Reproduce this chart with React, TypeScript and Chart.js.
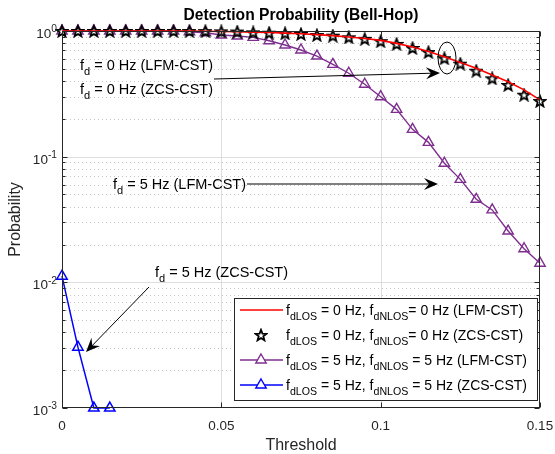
import React, { useEffect, useRef } from 'react';
import { Chart, registerables } from 'chart.js';

Chart.register(...registerables);

// ---------- data ----------
const thresholds = [
  0, 0.005, 0.01, 0.015, 0.02, 0.025, 0.03, 0.035, 0.04, 0.045,
  0.05, 0.055, 0.06, 0.065, 0.07, 0.075, 0.08, 0.085, 0.09, 0.095,
  0.1, 0.105, 0.11, 0.115, 0.12, 0.125, 0.13, 0.135, 0.14, 0.145, 0.15,
];
const lfm0Hz = [
  1, 1, 1, 1, 1, 1, 0.999, 0.999, 0.998, 0.996,
  0.992, 0.987, 0.98, 0.972, 0.962, 0.95, 0.935, 0.918, 0.897, 0.872,
  0.842, 0.797, 0.745, 0.688, 0.625, 0.562, 0.505, 0.447, 0.395, 0.34, 0.283,
];
const zcs0Hz = [
  1, 1, 1, 1, 1, 1, 1, 1, 0.999, 0.998,
  0.994, 0.99, 0.976, 0.969, 0.959, 0.947, 0.929, 0.918, 0.891, 0.866,
  0.83, 0.789, 0.733, 0.68, 0.607, 0.55, 0.483, 0.42, 0.372, 0.311, 0.277,
];
const lfm5Hz = [
  1, 1, 1, 1, 1, 1, 1, 0.999, 0.987, 0.969,
  0.93, 0.912, 0.89, 0.837, 0.774, 0.706, 0.632, 0.543, 0.461, 0.377,
  0.3, 0.238, 0.165, 0.13, 0.0886, 0.066, 0.0458, 0.0377, 0.0256, 0.0185, 0.0142,
];
const zcs5Hz = [0.0112, 0.00305, 0.001, 0.001];

const xTickValues = [0, 0.05, 0.1, 0.15];
const xTickLabels = ['0', '0.05', '0.1', '0.15'];
const yDecadeExponents = [0, -1, -2, -3];

const titleText = 'Detection Probability (Bell-Hop)';
const xAxisTitle = 'Threshold';
const yAxisTitle = 'Probability';

const legendLabels = [
  [{ t: 'f' }, { t: 'dLOS', sub: true }, { t: ' = 0 Hz, f' }, { t: 'dNLOS', sub: true }, { t: '= 0 Hz (LFM-CST)' }],
  [{ t: 'f' }, { t: 'dLOS', sub: true }, { t: ' = 0 Hz, f' }, { t: 'dNLOS', sub: true }, { t: '= 0 Hz (ZCS-CST)' }],
  [{ t: 'f' }, { t: 'dLOS', sub: true }, { t: ' = 5 Hz, f' }, { t: 'dNLOS', sub: true }, { t: ' = 5 Hz (LFM-CST)' }],
  [{ t: 'f' }, { t: 'dLOS', sub: true }, { t: ' = 5 Hz, f' }, { t: 'dNLOS', sub: true }, { t: ' = 5 Hz (ZCS-CST)' }],
];

const annotationTexts = {
  lfm0: [{ t: 'f' }, { t: 'd', sub: true }, { t: ' = 0 Hz (LFM-CST)' }],
  zcs0: [{ t: 'f' }, { t: 'd', sub: true }, { t: ' = 0 Hz (ZCS-CST)' }],
  lfm5: [{ t: 'f' }, { t: 'd', sub: true }, { t: ' = 5 Hz (LFM-CST)' }],
  zcs5: [{ t: 'f' }, { t: 'd', sub: true }, { t: ' = 5 Hz (ZCS-CST)' }],
};

// ---------- styles ----------
const RED = '#ff0000';
const PURPLE = '#7e2f8e';
const BLUE = '#0000ff';
const AXIS = '#262626';
const FONT = '"Liberation Sans", Arial, Helvetica, sans-serif';

type Part = { t: string; sub?: boolean; sup?: boolean };

function drawRich(ctx: CanvasRenderingContext2D, parts: Part[], x: number, baseline: number, size: number, align: 'left' | 'right' | 'center' = 'left', bold = false) {
  const small = size * 0.76;
  const fontFor = (p: Part) => `${bold ? 'bold ' : ''}${p.sub || p.sup ? small : size}px ${FONT}`;
  let w = 0;
  for (const p of parts) {
    ctx.font = fontFor(p);
    w += ctx.measureText(p.t).width;
  }
  let cx = align === 'right' ? x - w : align === 'center' ? x - w / 2 : x;
  ctx.textBaseline = 'alphabetic';
  ctx.textAlign = 'left';
  for (const p of parts) {
    ctx.font = fontFor(p);
    const dy = p.sub ? size * 0.36 : p.sup ? -size * 0.42 : 0;
    ctx.fillText(p.t, cx, baseline + dy);
    cx += ctx.measureText(p.t).width;
  }
}

function drawArrow(ctx: CanvasRenderingContext2D, x1: number, y1: number, x2: number, y2: number) {
  const ang = Math.atan2(y2 - y1, x2 - x1);
  ctx.save();
  ctx.strokeStyle = '#000';
  ctx.fillStyle = '#000';
  ctx.lineWidth = 1;
  ctx.beginPath();
  ctx.moveTo(x1, y1);
  ctx.lineTo(x2 - 6 * Math.cos(ang), y2 - 6 * Math.sin(ang));
  ctx.stroke();
  ctx.translate(x2, y2);
  ctx.rotate(ang);
  ctx.beginPath();
  ctx.moveTo(0, 0);
  ctx.lineTo(-14, -6);
  ctx.lineTo(-9, 0);
  ctx.lineTo(-14, 6);
  ctx.closePath();
  ctx.fill();
  ctx.restore();
}

function makeStar(size: number): HTMLCanvasElement {
  const c = document.createElement('canvas');
  c.width = size;
  c.height = size;
  const g = c.getContext('2d')!;
  const cx = size / 2;
  const cy = size / 2 + 0.6;
  const R = size / 2 - 1.2;
  const r = R * 0.42;
  g.beginPath();
  for (let i = 0; i < 10; i++) {
    const a = -Math.PI / 2 + (i * Math.PI) / 5;
    const rad = i % 2 ? r : R;
    const px = cx + rad * Math.cos(a);
    const py = cy + rad * Math.sin(a);
    if (i === 0) g.moveTo(px, py);
    else g.lineTo(px, py);
  }
  g.closePath();
  g.fillStyle = '#ffffff';
  g.fill();
  g.strokeStyle = '#000';
  g.lineWidth = 1.8;
  g.lineJoin = 'miter';
  g.stroke();
  return c;
}

const decorPlugin = {
  id: 'decor',
  beforeDatasetsDraw(chart: any) {
    const { ctx, chartArea: a, scales } = chart;
    const xs = scales.x;
    const ys = scales.y;
    ctx.save();
    // minor dotted grid
    ctx.strokeStyle = '#c4c4c4';
    ctx.lineWidth = 1;
    ctx.setLineDash([1, 3]);
    for (const e of yDecadeExponents) {
      for (let k = 2; k <= 9; k++) {
        const v = k * Math.pow(10, e);
        if (v >= 1 || v <= 0.001) continue;
        const py = Math.round(ys.getPixelForValue(v)) + 0.5;
        ctx.beginPath();
        ctx.moveTo(a.left, py);
        ctx.lineTo(a.right, py);
        ctx.stroke();
      }
    }
    ctx.setLineDash([]);
    // major grid
    ctx.strokeStyle = '#dedede';
    for (const e of yDecadeExponents) {
      const v = Math.pow(10, e);
      if (v >= 1 || v <= 0.001) continue;
      const py = Math.round(ys.getPixelForValue(v)) + 0.5;
      ctx.beginPath();
      ctx.moveTo(a.left, py);
      ctx.lineTo(a.right, py);
      ctx.stroke();
    }
    for (const v of xTickValues) {
      if (v <= 0 || v >= 0.15) continue;
      const px = Math.round(xs.getPixelForValue(v)) + 0.5;
      ctx.beginPath();
      ctx.moveTo(px, a.top);
      ctx.lineTo(px, a.bottom);
      ctx.stroke();
    }
    ctx.restore();
  },
  afterDatasetsDraw(chart: any) {
    const { ctx, chartArea: a, scales } = chart;
    const xs = scales.x;
    const ys = scales.y;
    ctx.save();
    // box
    ctx.strokeStyle = AXIS;
    ctx.lineWidth = 1;
    const L = Math.round(a.left) + 0.5;
    const R = Math.round(a.right) - 0.5;
    const T = Math.round(a.top) + 0.5;
    const B = Math.round(a.bottom) - 0.5;
    ctx.strokeRect(L, T, R - L, B - T);
    // ticks
    ctx.beginPath();
    for (const v of xTickValues) {
      const px = Math.round(xs.getPixelForValue(v)) + 0.5;
      ctx.moveTo(px, B);
      ctx.lineTo(px, B - 5);
      ctx.moveTo(px, T);
      ctx.lineTo(px, T + 5);
    }
    for (const e of yDecadeExponents) {
      const py = Math.round(ys.getPixelForValue(Math.pow(10, e))) + 0.5;
      ctx.moveTo(L, py);
      ctx.lineTo(L + 5, py);
      ctx.moveTo(R, py);
      ctx.lineTo(R - 5, py);
      for (let k = 2; k <= 9; k++) {
        const v = k * Math.pow(10, e);
        if (v >= 1) continue;
        const pm = Math.round(ys.getPixelForValue(v)) + 0.5;
        ctx.moveTo(L, pm);
        ctx.lineTo(L + 3, pm);
        ctx.moveTo(R, pm);
        ctx.lineTo(R - 3, pm);
      }
    }
    ctx.stroke();

    // tick labels
    ctx.fillStyle = AXIS;
    xTickValues.forEach((v, i) => {
      const px = xs.getPixelForValue(v);
      drawRich(ctx, [{ t: xTickLabels[i] }], px, 430, 13.5, 'center');
    });
    for (const e of yDecadeExponents) {
      const py = ys.getPixelForValue(Math.pow(10, e));
      drawRich(ctx, [{ t: '10' }, { t: String(e), sup: true }], 57, py + 7, 13.5, 'right');
    }

    // axis titles
    drawRich(ctx, [{ t: xAxisTitle }], (a.left + a.right) / 2, 450, 16, 'center');
    ctx.save();
    ctx.translate(20, (a.top + a.bottom) / 2);
    ctx.rotate(-Math.PI / 2);
    drawRich(ctx, [{ t: yAxisTitle }], 0, 0, 16, 'center');
    ctx.restore();

    // title
    ctx.fillStyle = '#000';
    drawRich(ctx, [{ t: titleText }], (a.left + a.right) / 2, 20, 15.6, 'center', true);

    // annotations
    ctx.fillStyle = '#000';
    drawRich(ctx, annotationTexts.lfm0, 80, 69.5, 14.5);
    drawRich(ctx, annotationTexts.zcs0, 80, 94, 14.5);
    drawRich(ctx, annotationTexts.lfm5, 113, 189, 14.5);
    drawRich(ctx, annotationTexts.zcs5, 155, 277, 14.5);
    drawArrow(ctx, 214, 79, 440, 73);
    drawArrow(ctx, 247, 184, 438, 184);
    drawArrow(ctx, 149, 287, 86, 352);
    ctx.strokeStyle = '#000';
    ctx.lineWidth = 1;
    ctx.beginPath();
    ctx.ellipse(447, 58, 9, 16, 0, 0, Math.PI * 2);
    ctx.stroke();

    // legend
    const lx = 234.5, ly = 298.5, lw = 303, lh = 102;
    ctx.fillStyle = '#ffffff';
    ctx.fillRect(lx, ly, lw, lh);
    ctx.strokeStyle = AXIS;
    ctx.lineWidth = 1;
    ctx.strokeRect(lx, ly, lw, lh);
    const rowY = [310, 335, 360, 385];
    const sx1 = 240, sx2 = 283, sm = 261;
    // row 1: red line
    ctx.strokeStyle = RED;
    ctx.lineWidth = 1.6;
    ctx.beginPath(); ctx.moveTo(sx1, rowY[0]); ctx.lineTo(sx2, rowY[0]); ctx.stroke();
    // row 2: star
    const star = chart.$starImg as HTMLCanvasElement;
    if (star) ctx.drawImage(star, sm - star.width / 2, rowY[1] - star.height / 2);
    // rows 3-4: triangle lines
    const tri = (cy: number, color: string, lwid: number) => {
      ctx.strokeStyle = color;
      ctx.lineWidth = lwid;
      ctx.beginPath(); ctx.moveTo(sx1, cy); ctx.lineTo(sx2, cy); ctx.stroke();
      const r = 6;
      ctx.fillStyle = '#fff';
      ctx.lineWidth = 1.4;
      ctx.beginPath();
      ctx.moveTo(sm, cy - r);
      ctx.lineTo(sm + r * 0.866, cy + r * 0.5);
      ctx.lineTo(sm - r * 0.866, cy + r * 0.5);
      ctx.closePath();
      ctx.fill();
      ctx.stroke();
    };
    tri(rowY[2], PURPLE, 1.3);
    tri(rowY[3], BLUE, 1.5);
    ctx.fillStyle = '#000';
    legendLabels.forEach((parts, i) => {
      drawRich(ctx, parts as Part[], 286, rowY[i] + 5, 14);
    });
    ctx.restore();
  },
};

export default function App() {
  const ref = useRef<HTMLCanvasElement | null>(null);
  useEffect(() => {
    const canvas = ref.current;
    if (!canvas) return;
    const starImg = makeStar(14);
    const pts = (ys: number[]) => ys.map((v, i) => ({ x: thresholds[i], y: v }));
    const chart = new Chart(canvas, {
      type: 'line',
      data: {
        datasets: [
          {
            label: 'fdLOS = 0 Hz, fdNLOS = 0 Hz (LFM-CST)',
            data: pts(lfm0Hz),
            borderColor: RED,
            borderWidth: 1.6,
            pointRadius: 0,
            tension: 0,
            clip: false,
          },
          {
            label: 'fdLOS = 0 Hz, fdNLOS = 0 Hz (ZCS-CST)',
            data: pts(zcs0Hz),
            showLine: false,
            pointStyle: starImg,
            pointRadius: 7,
            borderColor: '#000',
            clip: false,
          },
          {
            label: 'fdLOS = 5 Hz, fdNLOS = 5 Hz (LFM-CST)',
            data: pts(lfm5Hz),
            borderColor: PURPLE,
            borderWidth: 1.4,
            pointStyle: 'triangle',
            pointRadius: 6,
            pointBorderWidth: 1.4,
            pointBorderColor: PURPLE,
            pointBackgroundColor: 'rgba(0,0,0,0)',
            tension: 0,
            clip: false,
          },
          {
            label: 'fdLOS = 5 Hz, fdNLOS = 5 Hz (ZCS-CST)',
            data: pts(zcs5Hz),
            borderColor: BLUE,
            borderWidth: 1.5,
            pointStyle: 'triangle',
            pointRadius: 6,
            pointBorderWidth: 1.5,
            pointBorderColor: BLUE,
            pointBackgroundColor: 'rgba(0,0,0,0)',
            tension: 0,
            clip: false,
          },
        ],
      },
      options: {
        responsive: false,
        animation: false,
        devicePixelRatio: 1,
        layout: { padding: { left: 62, top: 31, right: 15, bottom: 46 } },
        plugins: {
          legend: { display: false },
          tooltip: { enabled: false },
          title: { display: false },
        },
        scales: {
          x: {
            type: 'linear',
            min: 0,
            max: 0.15,
            ticks: { display: false },
            grid: { display: false },
            border: { display: false },
            afterFit: (s: any) => { s.height = 0; },
          },
          y: {
            type: 'logarithmic',
            min: 0.001,
            max: 1,
            ticks: { display: false },
            grid: { display: false },
            border: { display: false },
            afterFit: (s: any) => { s.width = 0; },
          },
        },
      },
      plugins: [decorPlugin],
    } as any);
    (chart as any).$starImg = starImg;
    chart.draw();
    return () => chart.destroy();
  }, []);
  return (
    <div style={{ position: 'absolute', left: 0, top: 0, width: 555, height: 454, background: '#fff' }}>
      <canvas ref={ref} width={555} height={454} style={{ display: 'block', width: 555, height: 454 }} />
    </div>
  );
}
